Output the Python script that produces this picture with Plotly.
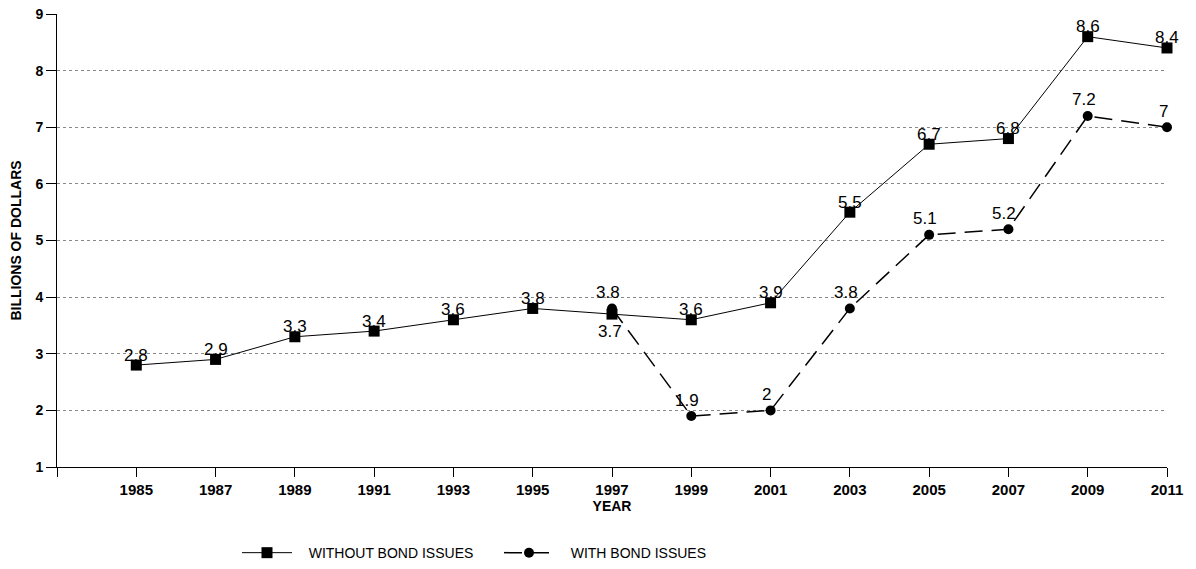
import plotly.graph_objects as go

years = [1985, 1987, 1989, 1991, 1993, 1995, 1997, 1999, 2001, 2003, 2005, 2007, 2009, 2011]
without_bonds = [2.8, 2.9, 3.3, 3.4, 3.6, 3.8, 3.7, 3.6, 3.9, 5.5, 6.7, 6.8, 8.6, 8.4]
with_years = [1997, 1999, 2001, 2003, 2005, 2007, 2009, 2011]
with_bonds = [3.8, 1.9, 2.0, 3.8, 5.1, 5.2, 7.2, 7.0]

x_ticks = [1983] + years
x_tick_text = [""] + [str(y) for y in years]

PAD = "\u00a0\u00a0\u00a0"

fig = go.Figure()
fig.add_trace(go.Scatter(
    x=years, y=without_bonds, mode="lines+markers", name=PAD + "WITHOUT BOND ISSUES",
    line=dict(color="black", width=1),
    marker=dict(symbol="square", size=11, color="black"),
    cliponaxis=False, legend="legend",
))
fig.add_trace(go.Scatter(
    x=with_years, y=with_bonds, mode="lines+markers", name=PAD + "WITH BOND ISSUES",
    line=dict(color="black", width=1.5, dash="18px,9px"),
    marker=dict(symbol="circle", size=10, color="black"),
    cliponaxis=False, legend="legend2",
))

label_font = dict(family="Arial, Liberation Sans", size=17, color="black")
annotations = []
for x, y in zip(years, without_bonds):
    below = (x == 1997)
    annotations.append(dict(
        x=x, y=y, text=f"{y:g}", showarrow=False, font=label_font,
        xshift=-2 if below else 0, yshift=-17 if below else 10,
    ))
for x, y in zip(with_years, with_bonds):
    annotations.append(dict(
        x=x, y=y, text=f"{y:g}", showarrow=False, font=label_font,
        xshift=-4, yshift=16,
    ))

legend_style = dict(
    orientation="h", yanchor="middle", y=-0.19, xanchor="left",
    font=dict(size=14, family="Arial, Liberation Sans"),
    itemwidth=50, bgcolor="rgba(0,0,0,0)",
)

fig.update_layout(
    width=1196, height=569,
    margin=dict(l=57, r=29, t=14, b=102, autoexpand=False),
    plot_bgcolor="white", paper_bgcolor="white",
    font=dict(family="Arial, Liberation Sans", color="black"),
    annotations=annotations,
    showlegend=True,
    legend=dict(legend_style, x=(237 - 57) / 1110),
    legend2=dict(legend_style, x=(499 - 57) / 1110),
    xaxis=dict(
        range=[1983, 2011], tickmode="array", tickvals=x_ticks, ticktext=x_tick_text,
        ticks="outside", ticklen=9, tickcolor="black", tickwidth=1,
        showline=True, linecolor="black", linewidth=1,
        showgrid=False, zeroline=False, automargin=False,
        tickfont=dict(size=15, family="Arial, Liberation Sans", weight="bold"),
        title=dict(text="<b>YEAR</b>", font=dict(size=14), standoff=2),
    ),
    yaxis=dict(
        range=[1, 9], dtick=1, tick0=1,
        ticks="outside", ticklen=10, tickcolor="black", tickwidth=1,
        showline=True, linecolor="black", linewidth=1,
        showgrid=True, gridcolor="#888888", griddash="dot", gridwidth=1,
        zeroline=False, automargin=False,
        tickfont=dict(size=14, family="Arial, Liberation Sans", weight="bold"),
        title=dict(text="<b>BILLIONS OF DOLLARS</b>", font=dict(size=14), standoff=10),
    ),
)

fig.write_html("out.html")
